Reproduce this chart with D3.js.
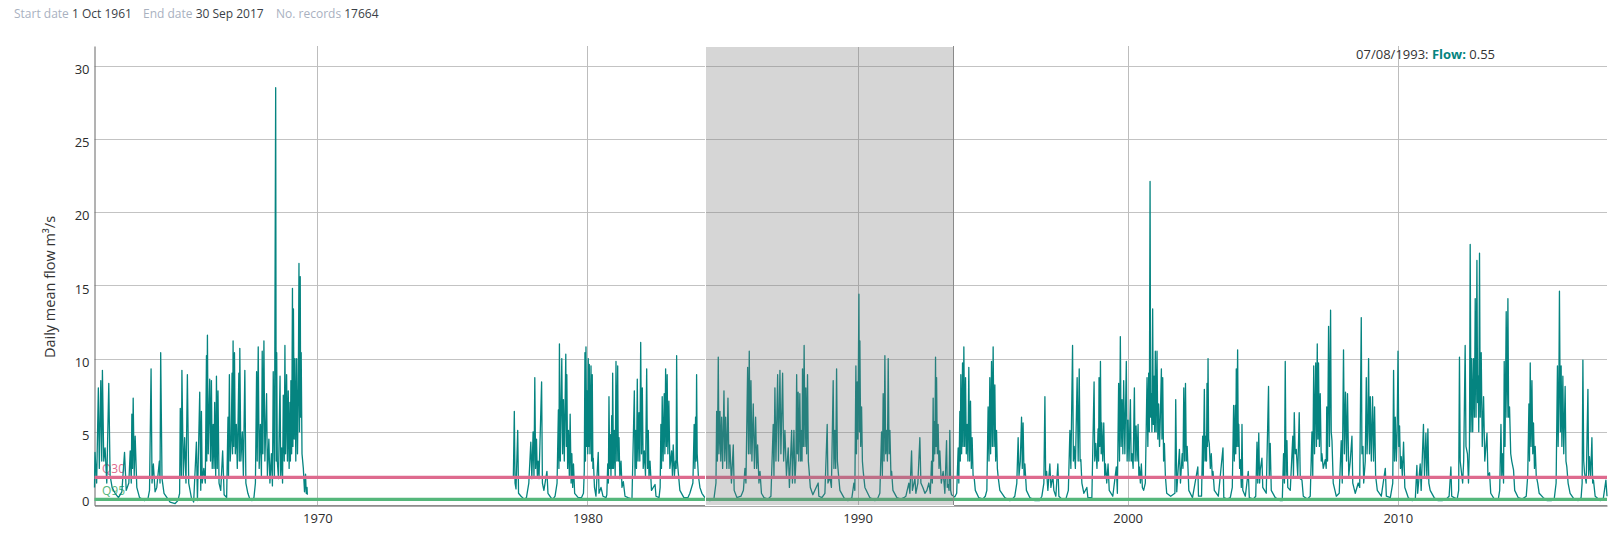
<!DOCTYPE html>
<html><head><meta charset="utf-8">
<script src="https://cdn.jsdelivr.net/npm/d3@7"></script>
<style>
body{margin:0;background:#fff;}
svg{font-family:"Open Sans",sans-serif;}
</style></head><body>
<svg id="chart" width="1622" height="557"></svg>
<script>
// ---------- data ----------
const headerLabels = ["Start date", "End date", "No. records"];
const headerValues = ["1 Oct 1961", "30 Sep 2017", "17664"];
const yTicks = [0, 5, 10, 15, 20, 25, 30];
const xTickYears = [1970, 1980, 1990, 2000, 2010];
const thresholdNames = ["Q30", "Q95"];
const thresholdValues = [1.89, 0.39];
const thresholdColors = ["#de6a8e", "#55b77b"];
const selectionRange = ["1984-05-10", "1993-07-17"];
const hoverLabel = "07/08/1993";
const hoverFlow = "0.55";
const yTitle = "Daily mean flow m\u00b3/s";

const flowPoints = [
["1961-10-01",1.2],["1961-10-08",3.6],["1961-10-30",1.5],["1961-11-22",8.0],["1961-12-05",2.5],["1961-12-25",8.5],["1962-01-07",3.0],["1962-01-16",9.2],["1962-02-03",3.0],["1962-02-21",3.9],["1962-03-16",1.5],["1962-04-12",8.3],["1962-04-30",2.0],["1962-05-27",1.2],["1962-07-07",0.8],["1962-08-21",0.5],["1962-10-06",0.9],
["1962-11-11",3.6],["1962-12-04",1.0],["1963-01-08",1.5],["1963-01-27",3.7],["1963-02-10",1.5],["1963-02-18",6.2],["1963-02-27",2.5],["1963-03-08",7.3],["1963-03-22",2.0],["1963-04-04",4.7],["1963-04-26",1.2],["1963-06-02",0.5],["1963-08-09",0.3],["1963-09-23",0.4],
["1963-10-15",1.0],["1963-11-05",9.3],["1963-11-18",1.5],["1963-12-06",2.8],["1963-12-29",0.9],["1964-01-21",1.2],["1964-02-25",3.0],["1964-03-05",1.5],["1964-03-14",10.4],["1964-04-01",1.8],["1964-04-28",0.8],["1964-07-19",0.2],["1964-09-25",0.1],
["1964-11-02",0.3],["1964-11-25",0.8],["1964-12-04",6.6],["1964-12-18",2.0],["1964-12-26",9.2],["1965-01-14",2.0],["1965-02-01",4.6],["1965-02-19",1.5],["1965-03-10",8.9],["1965-03-28",1.5],["1965-05-03",0.5],["1965-06-03",0.2],["1965-07-10",4.3],["1965-07-24",0.3],["1965-08-24",7.7],["1965-09-07",1.0],["1965-09-16",6.4],["1965-09-27",1.5],
["1965-10-18",2.5],["1965-11-07",1.5],["1965-11-23",10.2],["1965-11-27",3.0],["1965-12-06",11.6],["1965-12-17",3.5],["1966-01-06",8.6],["1966-01-17",3.0],["1966-01-29",8.5],["1966-02-09",2.5],["1966-02-22",5.5],["1966-03-05",2.5],["1966-03-14",7.0],["1966-03-28",2.0],["1966-04-07",8.8],["1966-04-18",2.5],["1966-04-28",7.8],["1966-05-12",1.5],["1966-06-04",1.0],["1966-06-30",3.7],["1966-07-20",0.7],["1966-08-23",0.5],["1966-09-10",6.0],["1966-09-17",2.0],["1966-09-29",8.9],
["1966-10-10",3.0],["1966-10-24",4.5],["1966-11-04",9.0],["1966-11-11",3.5],["1966-11-18",11.2],["1966-11-27",4.0],["1966-12-07",10.4],["1966-12-18",3.5],["1967-01-01",5.5],["1967-01-14",2.5],["1967-02-04",9.0],["1967-02-10",3.0],["1967-02-17",10.7],["1967-03-03",3.0],["1967-03-23",5.0],["1967-04-06",2.0],["1967-04-26",9.2],["1967-05-10",1.5],["1967-06-06",0.8],["1967-07-03",0.4],["1967-07-31",0.3],["1967-08-27",0.5],["1967-09-16",1.5],
["1967-10-02",9.1],["1967-10-10",3.0],["1967-10-24",10.8],["1967-11-06",2.5],["1967-11-22",5.5],["1967-12-06",2.0],["1967-12-17",10.5],["1967-12-26",3.5],["1968-01-09",11.2],["1968-01-22",3.0],["1968-02-14",7.6],["1968-02-25",2.0],["1968-03-16",4.5],["1968-03-30",1.5],["1968-04-19",3.5],["1968-05-03",1.3],["1968-05-14",9.1],["1968-05-30",2.0],["1968-06-16",28.5],["1968-06-23",3.0],["1968-06-30",10.4],["1968-07-08",3.0],["1968-07-24",1.8],["1968-08-14",8.8],["1968-08-23",2.0],["1968-09-06",3.9],["1968-09-17",1.5],["1968-09-27",7.5],
["1968-10-10",3.0],["1968-10-19",10.9],["1968-10-28",3.5],["1968-11-11",8.9],["1968-11-22",3.0],["1968-12-03",7.8],["1968-12-15",2.5],["1968-12-26",7.0],["1969-01-01",3.0],["1969-01-08",8.5],["1969-01-18",3.5],["1969-01-29",14.8],["1969-02-04",4.0],["1969-02-11",13.4],["1969-02-22",4.5],["1969-03-04",10.0],["1969-03-15",3.0],["1969-03-27",10.0],["1969-04-07",3.5],["1969-04-18",8.0],["1969-04-27",16.5],["1969-05-04",5.0],["1969-05-14",15.6],["1969-05-20",6.0],["1969-05-27",10.4],["1969-06-07",3.5],["1969-06-25",2.5],["1969-07-11",0.9],["1969-07-25",2.1],["1969-08-03",0.8],["1969-08-14",1.2],["1969-08-18",0.7],
["1977-04-04",1.9],["1977-04-17",6.4],["1977-04-27",1.5],["1977-05-10",1.1],["1977-06-02",5.1],["1977-06-13",0.8],["1977-07-17",0.6],["1977-08-27",0.4],["1977-09-28",0.5],
["1977-10-30",1.5],["1977-11-26",4.3],["1977-12-10",1.8],["1977-12-27",5.0],["1978-01-08",2.0],["1978-01-19",8.7],["1978-01-30",2.5],["1978-02-11",4.5],["1978-02-22",2.0],["1978-03-05",3.0],["1978-03-17",1.8],["1978-04-21",8.4],["1978-05-02",1.5],["1978-05-22",1.0],["1978-07-02",2.3],["1978-07-16",0.8],["1978-08-25",0.5],["1978-09-22",0.4],
["1978-10-20",0.6],["1978-11-16",1.5],["1978-12-04",6.5],["1978-12-11",2.5],["1978-12-18",11.0],["1978-12-30",3.0],["1979-01-19",10.0],["1979-01-30",3.5],["1979-02-10",7.2],["1979-02-22",3.0],["1979-03-14",10.3],["1979-03-22",4.0],["1979-03-28",8.9],["1979-04-08",2.5],["1979-04-19",5.1],["1979-05-01",2.0],["1979-05-12",6.2],["1979-05-25",1.5],["1979-06-04",3.5],["1979-06-15",1.2],["1979-06-26",2.8],["1979-07-12",0.8],["1979-08-29",0.5],
["1979-10-12",0.5],["1979-11-08",0.8],["1979-11-19",2.3],["1979-11-28",10.4],["1979-12-05",3.0],["1979-12-12",10.8],["1979-12-21",4.0],["1979-12-28",7.8],["1980-01-05",3.5],["1980-01-12",10.0],["1980-01-19",4.0],["1980-01-26",9.6],["1980-02-04",3.5],["1980-02-18",9.5],["1980-02-26",3.0],["1980-03-06",8.9],["1980-03-15",2.5],["1980-03-20",3.2],["1980-04-05",1.2],["1980-04-25",0.6],["1980-05-26",3.6],["1980-06-05",0.8],["1980-07-02",1.2],["1980-07-29",0.6],["1980-09-08",0.5],
["1980-09-19",0.7],["1980-10-01",2.8],["1980-10-10",1.5],["1980-10-18",7.4],["1980-10-28",2.5],["1980-11-05",4.8],["1980-11-14",2.0],["1980-11-24",6.1],["1980-12-01",2.5],["1980-12-07",9.0],["1980-12-18",2.5],["1980-12-29",5.1],["1981-01-10",2.0],["1981-01-21",9.8],["1981-02-01",3.0],["1981-02-13",9.5],["1981-02-21",3.0],["1981-03-03",4.6],["1981-03-14",1.8],["1981-03-30",3.0],["1981-04-12",1.2],["1981-04-30",1.6],["1981-05-23",0.6],["1981-07-02",0.5],["1981-08-25",0.4],
["1981-09-26",7.8],["1981-10-05",2.0],["1981-10-15",5.1],["1981-10-25",2.5],["1981-11-05",8.6],["1981-11-15",3.0],["1981-11-28",6.3],["1981-12-09",3.0],["1981-12-21",11.1],["1982-01-01",3.5],["1982-01-12",8.0],["1982-01-24",2.5],["1982-02-08",3.7],["1982-02-24",2.0],["1982-03-12",9.3],["1982-03-23",2.5],["1982-04-03",5.1],["1982-04-12",1.8],["1982-04-26",3.0],["1982-05-16",1.0],["1982-07-03",1.4],["1982-07-16",0.6],["1982-08-26",0.5],
["1982-09-10",1.2],["1982-09-20",5.5],["1982-09-28",2.5],["1982-10-08",7.4],["1982-10-20",3.0],["1982-11-04",7.6],["1982-11-13",3.5],["1982-11-23",9.3],["1982-12-04",4.0],["1982-12-14",8.9],["1982-12-24",3.5],["1983-01-06",7.1],["1983-01-20",2.5],["1983-02-12",3.7],["1983-02-23",2.0],["1983-03-06",4.1],["1983-03-22",2.0],["1983-04-04",3.0],["1983-04-14",2.5],["1983-04-21",10.2],["1983-05-01",3.0],["1983-05-12",2.3],["1983-06-04",1.0],["1983-07-28",0.5],["1983-09-20",0.5],
["1983-10-17",0.8],["1983-11-27",1.5],["1983-12-14",5.5],["1983-12-24",2.5],["1984-01-02",6.0],["1984-01-09",3.0],["1984-01-16",8.9],["1984-01-24",3.5],["1984-02-09",2.0],["1984-03-01",1.2],["1984-03-28",0.8],["1984-05-21",0.4],["1984-07-14",0.3],["1984-09-06",0.4],
["1984-10-04",1.5],["1984-10-13",6.4],["1984-10-23",3.0],["1984-11-04",10.1],["1984-11-13",3.5],["1984-11-27",6.4],["1984-12-08",3.0],["1984-12-20",6.0],["1985-01-02",2.5],["1985-01-20",7.8],["1985-01-31",3.0],["1985-02-12",6.0],["1985-02-27",2.5],["1985-03-15",7.3],["1985-03-29",2.5],["1985-04-11",4.1],["1985-05-01",1.5],["1985-05-26",4.1],["1985-06-07",1.0],["1985-07-15",0.5],["1985-09-07",0.6],
["1985-10-10",1.0],["1985-10-31",2.5],["1985-11-13",1.5],["1985-12-06",9.4],["1985-12-17",3.5],["1985-12-28",10.5],["1986-01-09",3.5],["1986-01-20",8.5],["1986-02-02",3.0],["1986-02-20",6.9],["1986-03-08",2.5],["1986-03-24",6.0],["1986-04-07",2.5],["1986-04-20",4.1],["1986-05-08",1.5],["1986-05-22",2.3],["1986-06-11",0.8],["1986-07-15",0.5],["1986-09-07",0.4],
["1986-10-17",0.6],["1986-11-17",5.5],["1986-11-27",2.0],["1986-12-10",8.0],["1986-12-24",3.0],["1987-01-16",8.9],["1987-01-27",3.0],["1987-02-16",9.2],["1987-03-01",3.5],["1987-03-24",9.0],["1987-04-07",3.0],["1987-04-24",5.1],["1987-05-15",2.0],["1987-06-08",3.9],["1987-06-24",1.2],["1987-07-24",5.1],["1987-08-04",1.5],["1987-08-24",5.1],["1987-09-07",1.5],["1987-09-20",3.0],
["1987-09-30",8.9],["1987-10-09",3.5],["1987-10-20",7.7],["1987-10-29",3.0],["1987-11-12",7.6],["1987-11-23",3.0],["1987-12-05",5.1],["1987-12-12",3.0],["1987-12-18",9.3],["1987-12-29",4.0],["1988-01-09",10.9],["1988-01-21",4.0],["1988-02-01",8.0],["1988-02-12",3.5],["1988-02-24",8.9],["1988-03-06",3.0],["1988-03-17",2.3],["1988-04-02",1.2],["1988-05-06",0.7],["1988-07-17",1.5],["1988-07-26",0.6],["1988-09-05",0.5],
["1988-10-16",0.8],["1988-11-16",5.5],["1988-11-26",1.5],["1988-12-23",1.9],["1989-01-12",1.2],["1989-02-05",8.5],["1989-02-15",2.5],["1989-02-28",5.1],["1989-03-11",2.5],["1989-03-23",9.3],["1989-04-03",3.0],["1989-04-14",2.3],["1989-05-07",1.0],["1989-06-30",0.5],["1989-08-23",0.3],
["1989-10-16",0.5],["1989-11-12",1.5],["1989-11-25",1.0],["1989-12-09",9.5],["1989-12-17",3.5],["1989-12-27",8.4],["1990-01-05",4.5],["1990-01-19",14.4],["1990-01-26",5.0],["1990-02-01",11.2],["1990-02-12",4.0],["1990-02-24",6.7],["1990-03-07",3.0],["1990-03-18",2.3],["1990-04-10",1.2],["1990-06-16",0.5],["1990-08-23",0.3],["1990-09-25",0.4],
["1990-10-29",0.8],["1990-11-21",5.0],["1990-12-02",2.0],["1990-12-13",7.6],["1990-12-25",3.0],["1991-01-05",10.2],["1991-01-16",3.5],["1991-01-28",5.1],["1991-02-08",3.0],["1991-02-19",10.0],["1991-03-03",3.5],["1991-03-14",5.1],["1991-03-28",2.0],["1991-04-06",2.3],["1991-04-24",1.0],["1991-06-16",0.5],["1991-08-09",0.4],["1991-09-19",0.5],
["1991-10-16",0.6],["1991-11-25",1.5],["1991-12-09",0.8],["1992-01-01",3.7],["1992-01-12",1.0],["1992-02-15",1.8],["1992-02-28",0.8],["1992-03-26",1.5],["1992-04-22",4.6],["1992-05-06",1.5],["1992-06-02",1.2],["1992-06-29",0.8],["1992-07-26",1.0],["1992-08-22",1.5],["1992-09-11",0.8],["1992-09-27",3.0],
["1992-10-08",1.5],["1992-10-19",7.3],["1992-10-25",3.0],["1992-11-01",5.7],["1992-11-11",3.5],["1992-11-20",10.1],["1992-11-27",4.0],["1992-12-04",8.7],["1992-12-14",3.5],["1992-12-25",5.5],["1993-01-06",2.5],["1993-01-17",3.7],["1993-02-06",1.5],["1993-03-03",2.3],["1993-03-26",0.8],["1993-04-18",4.4],["1993-04-28",1.2],["1993-05-09",1.4],["1993-05-22",1.0],["1993-06-01",5.1],["1993-06-12",1.0],["1993-06-24",0.7],["1993-08-07",0.55],["1993-09-02",0.8],["1993-09-22",3.9],
["1993-10-01",1.5],["1993-10-15",6.4],["1993-10-21",3.0],["1993-10-28",8.9],["1993-11-08",3.5],["1993-11-20",9.7],["1993-11-28",4.0],["1993-12-08",10.8],["1993-12-19",4.0],["1993-12-31",8.7],["1994-01-10",3.5],["1994-01-21",5.5],["1994-02-01",3.0],["1994-02-13",9.4],["1994-02-24",3.0],["1994-03-08",7.1],["1994-03-19",2.5],["1994-03-30",4.6],["1994-04-12",2.0],["1994-04-26",1.9],["1994-05-12",1.0],["1994-06-28",0.5],["1994-08-21",0.4],["1994-09-24",0.6],
["1994-10-15",1.0],["1994-11-01",6.7],["1994-11-13",3.0],["1994-11-24",8.7],["1994-12-05",3.5],["1994-12-17",9.8],["1994-12-28",4.0],["1995-01-08",10.8],["1995-01-20",4.0],["1995-01-31",8.2],["1995-02-11",3.0],["1995-02-23",5.1],["1995-03-06",2.5],["1995-03-17",1.9],["1995-04-09",1.0],["1995-06-15",0.5],["1995-08-22",0.3],["1995-09-25",0.4],
["1995-10-28",0.6],["1995-11-24",1.5],["1995-12-12",4.6],["1995-12-24",2.0],["1996-01-10",3.0],["1996-01-27",6.0],["1996-02-06",2.5],["1996-02-17",5.6],["1996-03-01",2.0],["1996-03-12",2.8],["1996-04-02",1.0],["1996-05-19",0.5],["1996-07-26",0.3],["1996-09-25",0.3],
["1996-10-28",0.6],["1996-11-24",1.5],["1996-12-08",7.4],["1996-12-18",2.0],["1996-12-31",2.3],["1997-01-17",1.0],["1997-02-13",2.8],["1997-02-27",1.2],["1997-03-26",2.0],["1997-04-08",1.0],["1997-05-05",0.6],["1997-06-01",2.8],["1997-06-15",0.6],["1997-07-25",0.4],["1997-09-17",0.4],
["1997-10-21",1.0],["1997-11-11",5.1],["1997-11-24",2.5],["1997-12-17",10.9],["1997-12-28",3.0],["1998-01-08",4.0],["1998-01-24",2.5],["1998-02-17",8.7],["1998-03-03",3.0],["1998-03-17",9.3],["1998-03-29",3.0],["1998-04-08",3.1],["1998-04-22",1.5],["1998-05-19",0.8],["1998-06-28",1.2],["1998-07-12",0.5],["1998-09-04",0.5],
["1998-10-04",8.4],["1998-10-13",3.0],["1998-10-27",4.2],["1998-11-12",2.5],["1998-11-27",5.2],["1998-12-04",3.0],["1998-12-10",8.7],["1998-12-20",4.0],["1998-12-29",9.8],["1999-01-08",3.5],["1999-01-16",5.6],["1999-01-29",3.0],["1999-02-12",5.6],["1999-02-25",2.0],["1999-03-07",2.8],["1999-03-24",1.5],["1999-04-11",2.8],["1999-04-27",1.0],["1999-06-14",0.6],["1999-08-01",2.6],["1999-08-15",0.8],
["1999-09-01",8.3],["1999-09-13",3.0],["1999-09-24",11.5],["1999-10-05",4.0],["1999-10-17",7.2],["1999-10-28",3.5],["1999-11-08",8.5],["1999-11-24",3.5],["1999-12-14",9.8],["1999-12-25",3.0],["2000-01-06",5.8],["2000-01-20",3.0],["2000-02-07",7.2],["2000-02-17",3.0],["2000-02-29",3.5],["2000-03-15",2.5],["2000-04-01",8.0],["2000-04-11",3.0],["2000-04-24",5.4],["2000-05-07",3.0],["2000-05-21",5.5],["2000-05-31",2.0],["2000-06-07",2.6],["2000-06-21",1.5],["2000-07-04",2.8],["2000-07-18",1.2],["2000-08-04",1.0],["2000-08-27",1.5],
["2000-09-19",8.7],["2000-09-30",4.0],["2000-10-11",9.0],["2000-10-20",5.0],["2000-10-30",22.1],["2000-11-07",6.0],["2000-11-16",7.6],["2000-11-24",5.0],["2000-12-04",13.4],["2000-12-13",5.5],["2000-12-23",8.8],["2000-12-31",5.0],["2001-01-09",10.5],["2001-01-20",5.0],["2001-02-01",10.5],["2001-02-12",4.5],["2001-02-23",6.9],["2001-03-07",4.0],["2001-03-18",6.0],["2001-04-01",9.3],["2001-04-09",4.5],["2001-04-19",8.7],["2001-05-01",3.0],["2001-05-12",4.2],["2001-05-25",2.0],["2001-06-12",0.8],["2001-08-05",0.6],
["2001-10-01",0.8],["2001-10-12",7.2],["2001-10-26",0.9],["2001-12-01",3.8],["2001-12-15",1.5],["2002-01-07",3.5],["2002-01-18",2.5],["2002-01-29",8.0],["2002-02-10",3.0],["2002-02-21",8.3],["2002-03-04",3.0],["2002-03-16",4.0],["2002-04-07",1.0],["2002-05-27",0.5],["2002-08-07",2.6],["2002-08-16",0.6],["2002-09-26",0.6],
["2002-10-11",4.7],["2002-10-20",2.0],["2002-11-03",7.9],["2002-11-13",3.0],["2002-11-25",4.7],["2002-12-02",3.0],["2002-12-09",8.3],["2002-12-16",4.0],["2002-12-23",10.0],["2002-12-31",4.5],["2003-01-09",4.2],["2003-01-23",2.5],["2003-02-05",3.5],["2003-02-19",1.8],["2003-02-28",2.3],["2003-03-18",1.0],["2003-05-11",0.6],["2003-07-13",3.9],["2003-07-24",0.5],["2003-09-10",0.4],
["2003-10-20",0.5],["2003-11-16",1.2],["2003-12-04",6.8],["2003-12-13",3.0],["2003-12-27",6.8],["2004-01-02",3.5],["2004-01-09",9.3],["2004-01-17",4.0],["2004-01-27",10.6],["2004-02-05",4.0],["2004-02-12",5.5],["2004-02-23",2.5],["2004-03-03",3.1],["2004-03-17",1.2],["2004-03-26",5.5],["2004-04-06",1.0],["2004-05-10",0.6],["2004-06-19",2.3],["2004-07-03",0.5],["2004-08-26",0.4],
["2004-09-28",0.6],["2004-10-15",4.3],["2004-10-25",1.5],["2004-11-08",4.9],["2004-11-19",1.5],["2004-11-28",2.4],["2004-12-21",3.2],["2005-01-01",1.2],["2005-02-17",0.8],["2005-03-20",8.1],["2005-03-30",2.0],["2005-04-12",4.2],["2005-04-26",1.0],["2005-06-19",0.5],["2005-08-26",0.3],["2005-09-22",0.3],
["2005-10-09",3.5],["2005-10-21",1.5],["2005-11-01",9.8],["2005-11-12",2.0],["2005-11-24",4.4],["2005-12-05",1.2],["2006-01-08",1.0],["2006-02-11",4.7],["2006-02-20",2.0],["2006-03-03",6.3],["2006-03-16",3.5],["2006-03-30",3.8],["2006-04-19",2.0],["2006-05-09",6.3],["2006-05-23",1.8],["2006-06-15",1.7],["2006-07-03",0.6],["2006-08-26",0.4],["2006-10-05",0.6],
["2006-10-28",5.0],["2006-11-08",2.0],["2006-11-21",9.5],["2006-12-02",3.5],["2006-12-18",9.7],["2006-12-28",4.0],["2007-01-08",11.0],["2007-01-17",4.5],["2007-01-25",9.7],["2007-02-06",4.0],["2007-02-17",7.6],["2007-03-03",3.0],["2007-03-12",3.5],["2007-03-30",2.5],["2007-04-26",3.1],["2007-05-09",2.5],["2007-05-16",6.7],["2007-05-27",3.0],["2007-06-10",12.2],["2007-06-22",4.0],["2007-07-07",13.3],["2007-07-16",5.0],["2007-07-26",4.4],["2007-08-12",1.5],["2007-09-22",0.6],
["2007-11-01",0.8],["2007-11-28",4.4],["2007-12-12",1.5],["2007-12-29",10.6],["2008-01-10",3.5],["2008-01-25",7.7],["2008-02-08",3.0],["2008-02-21",7.6],["2008-03-09",2.0],["2008-03-29",3.0],["2008-04-21",4.7],["2008-05-02",1.5],["2008-06-05",0.8],["2008-07-15",1.5],["2008-08-04",1.2],
["2008-08-25",12.8],["2008-09-03",3.5],["2008-09-17",4.0],["2008-09-27",1.5],["2008-10-18",3.0],["2008-11-01",8.7],["2008-11-11",3.5],["2008-11-21",5.0],["2008-12-02",10.0],["2008-12-14",3.5],["2008-12-25",7.4],["2009-01-08",3.0],["2009-01-25",7.4],["2009-02-07",3.0],["2009-02-21",6.7],["2009-03-07",2.0],["2009-03-30",1.0],["2009-05-23",0.6],["2009-07-16",2.5],["2009-07-30",0.6],["2009-09-22",0.5],
["2009-10-25",1.5],["2009-11-05",9.2],["2009-11-17",3.0],["2009-11-28",6.0],["2009-12-12",3.0],["2009-12-23",5.0],["2010-01-04",10.5],["2010-01-15",4.0],["2010-01-25",5.4],["2010-02-06",2.5],["2010-02-17",3.3],["2010-03-03",2.0],["2010-03-20",4.3],["2010-04-06",1.2],["2010-05-23",0.5],["2010-07-16",0.3],["2010-08-26",0.4],
["2010-09-16",2.7],["2010-09-27",0.8],["2010-10-31",2.8],["2010-11-13",1.0],["2010-12-14",5.5],["2010-12-28",2.0],["2011-01-16",4.9],["2011-01-29",1.8],["2011-02-12",5.2],["2011-02-25",1.5],["2011-03-15",1.0],["2011-05-08",0.5],["2011-07-01",0.3],["2011-08-24",0.3],
["2011-10-17",0.4],["2011-11-26",0.6],["2011-12-20",2.6],["2011-12-31",0.6],["2012-02-02",0.5],["2012-03-14",0.4],["2012-04-03",1.0],["2012-04-14",10.1],["2012-04-24",3.0],["2012-05-27",1.5],["2012-06-10",3.0],["2012-06-30",10.9],["2012-07-11",4.0],["2012-07-31",3.5],["2012-08-14",1.5],["2012-08-27",4.0],["2012-09-06",17.8],["2012-09-17",5.0],["2012-09-26",10.0],["2012-10-10",5.0],["2012-10-21",10.0],["2012-11-02",6.0],["2012-11-13",14.1],["2012-11-24",6.0],["2012-12-06",16.7],["2012-12-15",7.0],["2012-12-23",8.8],["2012-12-31",5.0],["2013-01-10",17.2],["2013-01-20",6.0],["2013-02-02",10.4],["2013-02-16",4.0],["2013-03-06",7.4],["2013-03-22",3.0],["2013-04-21",4.9],["2013-05-04",2.0],["2013-05-26",2.2],["2013-06-11",0.8],["2013-07-29",0.4],["2013-09-21",0.4],
["2013-10-10",1.0],["2013-10-27",5.5],["2013-11-07",2.0],["2013-11-20",3.5],["2013-12-01",1.5],["2013-12-10",9.8],["2013-12-21",4.0],["2014-01-06",13.2],["2014-01-17",6.0],["2014-01-29",14.1],["2014-02-08",6.0],["2014-02-20",6.7],["2014-03-08",3.5],["2014-03-22",3.0],["2014-04-15",2.4],["2014-05-01",1.0],["2014-06-18",0.5],["2014-08-11",0.4],["2014-10-04",0.6],
["2014-10-24",2.0],["2014-11-09",6.9],["2014-11-17",3.0],["2014-11-27",9.7],["2014-12-08",4.0],["2014-12-20",8.5],["2014-12-31",3.5],["2015-01-10",5.6],["2015-01-23",2.5],["2015-02-02",4.0],["2015-02-16",2.0],["2015-03-08",1.5],["2015-03-28",0.8],["2015-05-22",0.5],["2015-07-15",0.3],["2015-09-07",0.3],["2015-10-17",0.4],
["2015-11-12",1.5],["2015-11-30",9.5],["2015-12-09",4.0],["2015-12-18",7.0],["2015-12-27",14.6],["2016-01-08",5.0],["2016-01-19",9.5],["2016-01-29",4.0],["2016-02-11",8.8],["2016-02-23",3.5],["2016-03-13",8.1],["2016-03-24",3.0],["2016-04-05",2.6],["2016-04-22",1.5],["2016-05-19",0.8],["2016-07-12",0.4],["2016-09-04",0.3],["2016-10-15",0.5],
["2016-10-29",1.5],["2016-11-08",9.9],["2016-11-19",3.0],["2016-11-30",2.2],["2016-12-23",1.5],["2017-01-15",7.9],["2017-01-25",2.0],["2017-02-05",3.3],["2017-02-21",2.0],["2017-03-10",4.6],["2017-03-20",1.5],["2017-03-31",1.7],["2017-04-23",0.6],["2017-06-30",0.3],["2017-08-10",0.4],["2017-09-15",1.7],["2017-09-30",0.6]
];

// ---------- drawing ----------
const svg = d3.select("#chart");
const parse = d3.utcParse("%Y-%m-%d");
const mLeft = 94.5, mRight = 1607, mTop = 46, mBottom = 505;

const data = flowPoints.map(([d, v]) => ({date: parse(d), value: v}));
const series = [];
data.forEach((d, i) => {
  if (i > 0 && (d.date - data[i - 1].date) > 365 * 864e5) series.push({date: null, value: null});
  series.push(d);
});

const x = d3.scaleUtc().domain([parse("1961-10-01"), parse("2017-09-30")]).range([mLeft, mRight]);
const y = d3.scaleLinear().domain([0, d3.max(data, d => d.value) * 1.1]).range([mBottom, mTop]);

// header
const headerX = [14, 143, 276];
headerLabels.forEach((lab, i) => {
  const t = svg.append("text").attr("x", headerX[i]).attr("y", 18).attr("font-size", 12);
  t.append("tspan").attr("fill", "#a9b1bf").text(lab + " ");
  t.append("tspan").attr("fill", "#3a3f47").attr("font-weight", 500).text(headerValues[i]);
});

// grid
const grid = svg.append("g");
grid.selectAll(".hg").data(yTicks).join("line")
  .attr("x1", mLeft).attr("x2", mRight)
  .attr("y1", d => Math.round(y(d)) + 0.5).attr("y2", d => Math.round(y(d)) + 0.5)
  .attr("stroke", "#c3c3c3").attr("stroke-width", 1);
grid.selectAll(".vg").data(xTickYears).join("line")
  .attr("x1", d => Math.round(x(new Date(Date.UTC(d, 0, 1)))) + 0.5)
  .attr("x2", d => Math.round(x(new Date(Date.UTC(d, 0, 1)))) + 0.5)
  .attr("y1", mTop).attr("y2", mBottom)
  .attr("stroke", "#bdbdbd").attr("stroke-width", 1);

// axes
const yAxis = svg.append("g").attr("transform", `translate(${Math.round(mLeft) - 0.5},0)`)
  .call(d3.axisLeft(y).tickValues(yTicks).tickSize(0).tickPadding(5).tickFormat(d3.format("d")));
const xAxis = svg.append("g").attr("transform", `translate(0,${mBottom + 0.5})`)
  .call(d3.axisBottom(x).tickValues(xTickYears.map(d => new Date(Date.UTC(d, 0, 1))))
    .tickSize(0).tickPadding(8).tickFormat(d3.utcFormat("%Y")));
[yAxis, xAxis].forEach(g => {
  g.selectAll("text").attr("font-size", 13).attr("fill", "#2b2b2b").attr("font-family", '"Open Sans",sans-serif');
});
// y labels sit just under their grid line; the 0 label sits just above the axis
yAxis.selectAll(".tick text").attr("dy", d => d === 0 ? "0.05em" : "0.6em");
yAxis.select(".domain").attr("stroke", "#666");
xAxis.select(".domain").attr("stroke", "#555");

// y title
svg.append("text").attr("transform", "translate(55,287) rotate(-90)")
  .attr("text-anchor", "middle").attr("font-size", 14.5).attr("fill", "#333").text(yTitle);

// threshold labels (under data)
thresholdNames.forEach((n, i) => {
  svg.append("text").attr("x", 102).attr("y", y(thresholdValues[i]) - 4.5)
    .attr("font-size", 12).attr("fill", thresholdColors[i]).text(n);
});

// data line
const line = d3.line().defined(d => d.value != null).x(d => x(d.date)).y(d => y(d.value));
svg.append("path").datum(series).attr("d", line)
  .attr("fill", "none").attr("stroke", "#058480").attr("stroke-width", 1.3).attr("stroke-linejoin", "round");

// threshold lines
thresholdValues.forEach((v, i) => {
  svg.append("line").attr("x1", mLeft).attr("x2", mRight).attr("y1", y(v)).attr("y2", y(v))
    .attr("stroke", thresholdColors[i]).attr("stroke-width", 3.2);
});

// brush selection
const brush = d3.brushX().extent([[mLeft, mTop], [mRight, mBottom]]);
const bg = svg.append("g").attr("class", "brush").call(brush);
bg.call(brush.move, selectionRange.map(d => x(parse(d))));

// hover line
const hx = Math.round(x(parse(selectionRange[1]))) + 0.5;
svg.append("line").attr("x1", hx).attr("x2", hx).attr("y1", mTop).attr("y2", mBottom)
  .attr("stroke", "#8a8a8a").attr("stroke-width", 1);

// tooltip text
const tip = svg.append("text").attr("x", 1495).attr("y", 59).attr("text-anchor", "end").attr("font-size", 13);
tip.append("tspan").attr("fill", "#333").text(hoverLabel + ": ");
tip.append("tspan").attr("fill", "#058480").attr("font-weight", 700).text("Flow:");
tip.append("tspan").attr("fill", "#333").text(" " + hoverFlow);
</script>
</body></html>
